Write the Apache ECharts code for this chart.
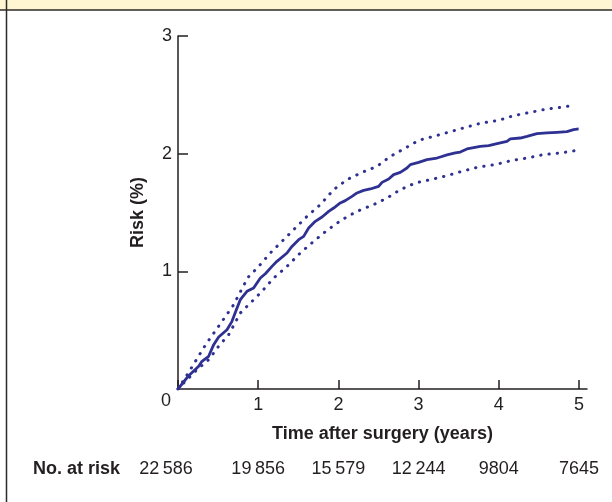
<!DOCTYPE html>
<html>
<head>
<meta charset="utf-8">
<script src="https://cdn.jsdelivr.net/npm/echarts@6/dist/echarts.min.js"></script>
<style>
html,body{margin:0;padding:0;background:#fff;}
#chart{width:612px;height:502px;}
</style>
</head>
<body>
<div id="chart"></div>
<script>
// ---- Data ----
var mainTime = [0, 0.133, 0.258, 0.299, 0.382, 0.445, 0.507, 0.611, 0.673, 0.736, 0.777, 0.860, 0.943, 1.027, 1.089, 1.172, 1.234, 1.359, 1.421, 1.505, 1.567, 1.629, 1.712, 1.796, 1.879, 1.941, 2.024, 2.086, 2.170, 2.232, 2.315, 2.398, 2.502, 2.544, 2.627, 2.689, 2.772, 2.855, 2.897, 3.001, 3.105, 3.229, 3.271, 3.354, 3.458, 3.520, 3.603, 3.770, 3.874, 3.978, 4.102, 4.144, 4.268, 4.352, 4.476, 4.601, 4.726, 4.850, 4.933, 4.996];
var mainRisk = [0, 0.113, 0.193, 0.235, 0.278, 0.377, 0.442, 0.504, 0.575, 0.688, 0.759, 0.830, 0.858, 0.943, 0.980, 1.042, 1.085, 1.156, 1.212, 1.269, 1.297, 1.368, 1.425, 1.462, 1.510, 1.538, 1.581, 1.601, 1.637, 1.666, 1.688, 1.700, 1.722, 1.756, 1.785, 1.822, 1.841, 1.878, 1.907, 1.926, 1.949, 1.963, 1.972, 1.989, 2.006, 2.014, 2.040, 2.062, 2.068, 2.085, 2.105, 2.125, 2.133, 2.147, 2.170, 2.176, 2.181, 2.187, 2.204, 2.210];

var upperTime = [0, 0.166, 0.345, 0.511, 0.686, 0.873, 1.0, 1.151, 1.297, 1.442, 1.608, 1.775, 1.941, 2.107, 2.294, 2.481, 2.648, 2.835, 3.001, 3.188, 3.396, 3.603, 3.790, 3.998, 4.185, 4.393, 4.601, 4.809, 4.913];
var upperRisk = [0, 0.178, 0.377, 0.538, 0.708, 0.949, 1.037, 1.156, 1.255, 1.354, 1.467, 1.567, 1.694, 1.779, 1.841, 1.892, 1.977, 2.048, 2.113, 2.147, 2.187, 2.227, 2.261, 2.283, 2.323, 2.351, 2.380, 2.397, 2.408];

var lowerTime = [0, 0.071, 0.237, 0.382, 0.507, 0.632, 0.777, 0.923, 1.047, 1.193, 1.359, 1.525, 1.692, 1.858, 2.045, 2.232, 2.440, 2.606, 2.772, 2.959, 3.146, 3.354, 3.541, 3.749, 3.957, 4.165, 4.352, 4.559, 4.767, 4.975];
var lowerRisk = [0, 0.051, 0.164, 0.249, 0.363, 0.462, 0.646, 0.745, 0.830, 0.943, 1.042, 1.156, 1.255, 1.348, 1.439, 1.510, 1.567, 1.623, 1.694, 1.751, 1.779, 1.813, 1.850, 1.887, 1.907, 1.943, 1.963, 1.992, 2.006, 2.028];

var xTicks = [0, 1, 2, 3, 4, 5];
var xLabels = [1, 2, 3, 4, 5];
var yLabels = [1, 2, 3];
var atRiskTimes = [0, 1, 2, 3, 4, 5];
var atRiskLabels = ['22\u2009586', '19\u2009856', '15\u2009579', '12\u2009244', '9804', '7645'];
var originLabel = '0';
var xTitle = 'Time after surgery (years)';
var yTitle = 'Risk (%)';
var atRiskTitle = 'No. at risk';

// ---- Chart ----
var FONT = '"Liberation Sans", Arial, Helvetica, sans-serif';
var INK = '#231F20';
var BLUE = '#2E3192';

function zip(a, b) { return a.map(function (v, i) { return [v, b[i]]; }); }

var chart = echarts.init(document.getElementById('chart'), null, { renderer: 'canvas' });

var option = {
  animation: false,
  backgroundColor: '#ffffff',
  grid: { left: 178, right: 25, top: 36, bottom: 113, containLabel: false },
  xAxis: {
    type: 'value', min: 0, max: 5.1, interval: 1,
    name: xTitle, nameLocation: 'middle', nameGap: 36,
    nameTextStyle: { fontFamily: FONT, fontSize: 18, fontWeight: 'bold', color: INK },
    axisLine: { lineStyle: { color: INK, width: 1.5 } },
    axisTick: { show: true, inside: true, length: 9, lineStyle: { color: INK, width: 1.5 }, customValues: xTicks },
    axisLabel: { fontFamily: FONT, fontSize: 18, color: INK, margin: 7, customValues: xLabels },
    splitLine: { show: false }
  },
  yAxis: {
    type: 'value', min: 0, max: 3, interval: 1,
    name: yTitle, nameLocation: 'middle', nameGap: 31, nameRotate: 90,
    nameTextStyle: { fontFamily: FONT, fontSize: 18, fontWeight: 'bold', color: INK },
    axisLine: { show: true, lineStyle: { color: INK, width: 1.5 } },
    axisTick: { show: true, inside: true, length: 10, lineStyle: { color: INK, width: 1.5 }, customValues: yLabels },
    axisLabel: { fontFamily: FONT, fontSize: 18, color: INK, margin: 6, customValues: yLabels },
    splitLine: { show: false }
  },
  series: [
    {
      type: 'line', data: zip(upperTime, upperRisk), showSymbol: false, smooth: false,
      lineStyle: { color: BLUE, width: 3, type: [0.3, 8], cap: 'round' }, z: 2
    },
    {
      type: 'line', data: zip(lowerTime, lowerRisk), showSymbol: false, smooth: false,
      lineStyle: { color: BLUE, width: 3, type: [0.3, 8], cap: 'round' }, z: 2
    },
    {
      type: 'line', data: zip(mainTime, mainRisk), showSymbol: false, smooth: false,
      lineStyle: { color: BLUE, width: 2.8, join: 'round' }, z: 3
    }
  ]
};
chart.setOption(option);

// Frame, origin label and numbers at risk
var firstColShift = -12;
var elements = [
  { type: 'rect', shape: { x: 0, y: 0, width: 612, height: 10 }, style: { fill: '#FFF7D2' }, z: 10 },
  { type: 'line', shape: { x1: 0, y1: 10, x2: 612, y2: 10 }, style: { stroke: '#2b2b2b', lineWidth: 1.5 }, z: 11 },
  { type: 'line', shape: { x1: 6.5, y1: 0, x2: 6.5, y2: 502 }, style: { stroke: '#2b2b2b', lineWidth: 1.5 }, z: 11 }
];
var origin = chart.convertToPixel({ gridIndex: 0 }, [0, 0]);
elements.push({
  type: 'text', x: origin[0] + firstColShift, y: origin[1] + 12,
  style: { text: originLabel, font: '18px ' + FONT, fill: INK, align: 'center', verticalAlign: 'middle' }, z: 11
});
elements.push({
  type: 'text', x: 33, y: 469,
  style: { text: atRiskTitle, font: 'bold 18px ' + FONT, fill: INK, align: 'left', verticalAlign: 'middle' }, z: 11
});
atRiskTimes.forEach(function (t, i) {
  var px = chart.convertToPixel({ xAxisIndex: 0 }, t) + (i === 0 ? firstColShift : 0);
  elements.push({
    type: 'text', x: px, y: 469,
    style: { text: atRiskLabels[i], font: '18px ' + FONT, fill: INK, align: 'center', verticalAlign: 'middle' }, z: 11
  });
});
chart.setOption({ graphic: { elements: elements } });
</script>
</body>
</html>
